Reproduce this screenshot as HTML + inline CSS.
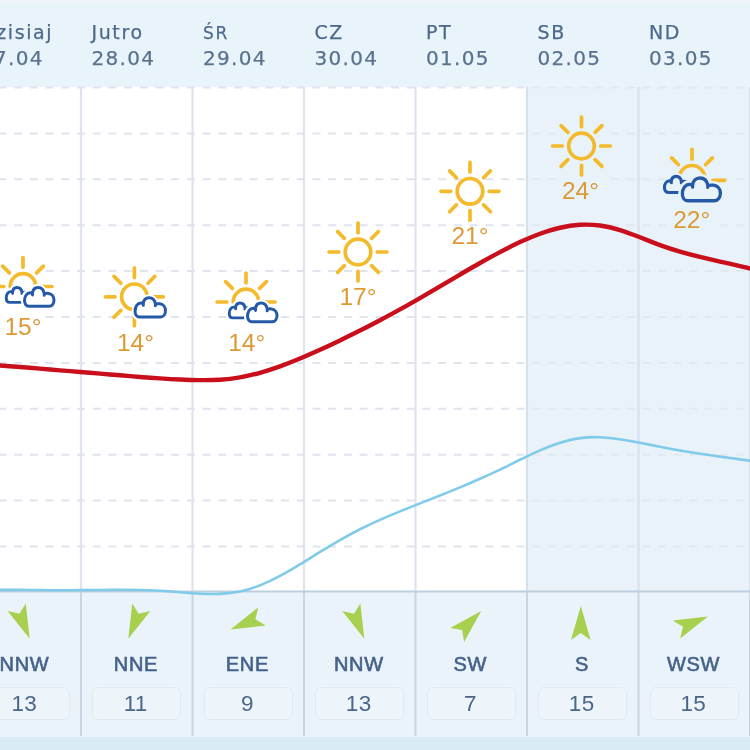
<!DOCTYPE html>
<html lang="pl"><head><meta charset="utf-8"><title>Pogoda</title>
<style>
html,body{margin:0;padding:0;}
body{width:750px;height:750px;overflow:hidden;background:#fff;font-family:"Liberation Sans","DejaVu Sans",sans-serif;position:relative;}
#hdr{position:absolute;left:0;top:0;width:750px;height:87px;background:#e9f3fa;}
.wk{position:absolute;top:87px;height:504px;background:#e8f2f9;}
#bot{position:absolute;left:0;top:591.5px;width:750px;height:145px;background:#eaf3fa;}
#band{position:absolute;left:0;top:736.5px;width:750px;height:14px;background:#d8eaf3;}
svg{position:absolute;left:0;top:0;overflow:visible;filter:blur(0.5px);}
.day,.date,.temp,.dir,.spd{filter:blur(0.4px);}
.day,.date{position:absolute;font-family:"DejaVu Sans","Liberation Sans",sans-serif;white-space:nowrap;-webkit-text-stroke:0.25px currentColor;}
.day{top:19.5px;color:#4d698c;font-size:19px;line-height:24px;letter-spacing:1.6px;}
.day.s{font-size:17px;top:20.5px;}
.date{top:46px;color:#58728f;font-size:20px;line-height:24px;letter-spacing:1.3px;}
.temp{position:absolute;width:80px;text-align:center;color:#db9a33;font-size:24.5px;line-height:24px;letter-spacing:0px;white-space:nowrap;}
.dir{position:absolute;top:652px;width:100px;text-align:center;color:#46628a;font-size:20px;line-height:24px;letter-spacing:0.7px;white-space:nowrap;-webkit-text-stroke:0.6px #46628a;}
.spd{position:absolute;top:687px;width:87px;height:31px;border:1px solid #dfe9f3;border-radius:6px;background:#edf5fb;text-align:center;color:#4a6688;font-size:22.5px;line-height:31px;letter-spacing:0.3px;text-indent:-2px;}
</style></head><body>
<div id="hdr"></div><div style="position:absolute;left:0;top:0;width:750px;height:2px;background:#eef4f8"></div>
<div class="wk" style="left:527.0px;width:223.0px"></div>
<div id="bot"></div><div id="band"></div>
<svg width="750" height="750" viewBox="0 0 750 750">
<line x1="-17.2" y1="87.5" x2="770" y2="87.5" stroke="#e0e4ee" stroke-width="2" stroke-dasharray="8 7.7"/>
<line x1="-17.2" y1="133.4" x2="770" y2="133.4" stroke="#e0e4ee" stroke-width="2" stroke-dasharray="8 7.7"/>
<line x1="-17.2" y1="179.3" x2="770" y2="179.3" stroke="#e0e4ee" stroke-width="2" stroke-dasharray="8 7.7"/>
<line x1="-17.2" y1="225.2" x2="770" y2="225.2" stroke="#e0e4ee" stroke-width="2" stroke-dasharray="8 7.7"/>
<line x1="-17.2" y1="271.1" x2="770" y2="271.1" stroke="#e0e4ee" stroke-width="2" stroke-dasharray="8 7.7"/>
<line x1="-17.2" y1="317.0" x2="770" y2="317.0" stroke="#e0e4ee" stroke-width="2" stroke-dasharray="8 7.7"/>
<line x1="-17.2" y1="362.9" x2="770" y2="362.9" stroke="#e0e4ee" stroke-width="2" stroke-dasharray="8 7.7"/>
<line x1="-17.2" y1="408.8" x2="770" y2="408.8" stroke="#e0e4ee" stroke-width="2" stroke-dasharray="8 7.7"/>
<line x1="-17.2" y1="454.7" x2="770" y2="454.7" stroke="#e0e4ee" stroke-width="2" stroke-dasharray="8 7.7"/>
<line x1="-17.2" y1="500.6" x2="770" y2="500.6" stroke="#e0e4ee" stroke-width="2" stroke-dasharray="8 7.7"/>
<line x1="-17.2" y1="546.5" x2="770" y2="546.5" stroke="#e0e4ee" stroke-width="2" stroke-dasharray="8 7.7"/>
<rect x="528.0" y="86" width="230" height="506" fill="#e8f2f9" opacity="0.25"/>
<line x1="81.0" y1="87" x2="81.0" y2="591" stroke="#dfe3ef" stroke-width="2.2"/>
<line x1="81.0" y1="591" x2="81.0" y2="736" stroke="#c9d4e3" stroke-width="2"/>
<line x1="192.5" y1="87" x2="192.5" y2="591" stroke="#dfe3ef" stroke-width="2.2"/>
<line x1="192.5" y1="591" x2="192.5" y2="736" stroke="#c9d4e3" stroke-width="2"/>
<line x1="304.0" y1="87" x2="304.0" y2="591" stroke="#dfe3ef" stroke-width="2.2"/>
<line x1="304.0" y1="591" x2="304.0" y2="736" stroke="#c9d4e3" stroke-width="2"/>
<line x1="415.5" y1="87" x2="415.5" y2="591" stroke="#dfe3ef" stroke-width="2.2"/>
<line x1="415.5" y1="591" x2="415.5" y2="736" stroke="#c9d4e3" stroke-width="2"/>
<line x1="527.0" y1="87" x2="527.0" y2="591" stroke="#d6e1ed" stroke-width="2.2"/>
<line x1="527.0" y1="591" x2="527.0" y2="736" stroke="#c9d4e3" stroke-width="2"/>
<line x1="638.5" y1="87" x2="638.5" y2="591" stroke="#d6e1ed" stroke-width="2.2"/>
<line x1="638.5" y1="591" x2="638.5" y2="736" stroke="#c9d4e3" stroke-width="2"/>
<line x1="750.0" y1="87" x2="750.0" y2="591" stroke="#d6e1ed" stroke-width="2.2"/>
<line x1="750.0" y1="591" x2="750.0" y2="736" stroke="#c9d4e3" stroke-width="2"/>
<line x1="-10" y1="591.6" x2="760" y2="591.6" stroke="#bdcede" stroke-width="2"/>
<rect x="0.5" y="255.5" width="45" height="86" fill="#ffffff"/>
<rect x="559.0" y="115.0" width="45" height="86" fill="#e8f2f9"/>
<rect x="669.5" y="148.0" width="45" height="86" fill="#e8f2f9"/>
<path d="M-20.0 590.07 C-13.3 589.93 -6.7 589.86 0.0 589.84 C6.7 589.82 13.3 589.85 20.0 589.90 C26.7 589.96 33.3 590.03 40.0 590.09 C46.7 590.16 53.3 590.22 60.0 590.24 C66.7 590.26 73.3 590.24 80.0 590.17 C86.7 590.11 93.3 590.02 100.0 589.94 C106.7 589.87 113.3 589.80 120.0 589.79 C126.7 589.78 133.3 589.83 140.0 589.97 C146.7 590.12 153.3 590.36 160.0 590.74 C166.7 591.12 173.3 591.67 180.0 592.23 C186.7 592.80 193.3 593.35 200.0 593.69 C206.7 594.02 213.3 594.15 220.0 593.84 C226.7 593.54 233.3 592.81 240.0 591.45 C246.7 590.09 253.3 588.03 260.0 585.37 C266.7 582.72 273.3 579.49 280.0 575.91 C286.7 572.34 293.3 568.41 300.0 564.35 C306.7 560.29 313.3 556.10 320.0 551.98 C326.7 547.87 333.3 543.86 340.0 540.06 C346.7 536.25 353.3 532.63 360.0 529.25 C366.7 525.87 373.3 522.75 380.0 519.82 C386.7 516.88 393.3 514.12 400.0 511.41 C406.7 508.70 413.3 506.05 420.0 503.41 C426.7 500.78 433.3 498.15 440.0 495.50 C446.7 492.84 453.3 490.15 460.0 487.37 C466.7 484.60 473.3 481.74 480.0 478.77 C486.7 475.81 493.3 472.74 500.0 469.56 C506.7 466.37 513.3 463.04 520.0 459.78 C526.7 456.51 533.3 453.31 540.0 450.39 C546.7 447.48 553.3 444.85 560.0 442.74 C566.7 440.62 573.3 439.01 580.0 438.12 C586.7 437.23 593.3 437.00 600.0 437.24 C606.7 437.49 613.3 438.20 620.0 439.18 C626.7 440.17 633.3 441.43 640.0 442.76 C646.7 444.10 653.3 445.50 660.0 446.80 C666.7 448.10 673.3 449.31 680.0 450.45 C686.7 451.60 693.3 452.67 700.0 453.70 C706.7 454.72 713.3 455.70 720.0 456.64 C726.7 457.59 733.3 458.50 740.0 459.40 C746.7 460.30 753.3 461.19 760.0 462.08" fill="none" stroke="#80cbe9" stroke-width="2.6"/>
<path d="M-20.0 364.32 C-13.3 364.67 -6.7 365.08 0.0 365.54 C6.7 366.00 13.3 366.50 20.0 367.03 C26.7 367.55 33.3 368.10 40.0 368.66 C46.7 369.21 53.3 369.77 60.0 370.32 C66.7 370.87 73.3 371.42 80.0 371.97 C86.7 372.51 93.3 373.06 100.0 373.62 C106.7 374.17 113.3 374.74 120.0 375.30 C126.7 375.86 133.3 376.42 140.0 376.94 C146.7 377.47 153.3 377.96 160.0 378.40 C166.7 378.84 173.3 379.22 180.0 379.52 C186.7 379.82 193.3 380.05 200.0 380.14 C206.7 380.23 213.3 380.15 220.0 379.74 C226.7 379.33 233.3 378.57 240.0 377.39 C246.7 376.21 253.3 374.65 260.0 372.79 C266.7 370.93 273.3 368.77 280.0 366.37 C286.7 363.97 293.3 361.34 300.0 358.55 C306.7 355.76 313.3 352.81 320.0 349.78 C326.7 346.74 333.3 343.63 340.0 340.42 C346.7 337.22 353.3 333.93 360.0 330.56 C366.7 327.19 373.3 323.74 380.0 320.20 C386.7 316.67 393.3 313.06 400.0 309.36 C406.7 305.66 413.3 301.89 420.0 298.04 C426.7 294.18 433.3 290.26 440.0 286.33 C446.7 282.40 453.3 278.45 460.0 274.55 C466.7 270.65 473.3 266.79 480.0 263.02 C486.7 259.26 493.3 255.59 500.0 252.08 C506.7 248.56 513.3 245.20 520.0 242.11 C526.7 239.02 533.3 236.19 540.0 233.76 C546.7 231.33 553.3 229.28 560.0 227.75 C566.7 226.21 573.3 225.18 580.0 224.78 C586.7 224.38 593.3 224.62 600.0 225.51 C606.7 226.40 613.3 227.98 620.0 230.07 C626.7 232.15 633.3 234.69 640.0 237.31 C646.7 239.93 653.3 242.64 660.0 245.08 C666.7 247.51 673.3 249.66 680.0 251.61 C686.7 253.55 693.3 255.30 700.0 256.92 C706.7 258.55 713.3 260.07 720.0 261.56 C726.7 263.05 733.3 264.52 740.0 266.05 C746.7 267.58 753.3 269.18 760.0 270.93" fill="none" stroke="#c90f1c" stroke-width="4.4"/>
<g transform="translate(23.0 286.5)" stroke="#f3ba2b" stroke-width="3.7" fill="none" stroke-linecap="round"><path d="M-12.8 0 A12.8 12.8 0 0 1 12.8 0"/><line x1="-19.3" y1="-0.0" x2="-28.9" y2="-0.0"/><line x1="-13.6" y1="-13.6" x2="-20.4" y2="-20.4"/><line x1="0.0" y1="-19.3" x2="0.0" y2="-28.9"/><line x1="13.6" y1="-13.6" x2="20.4" y2="-20.4"/><line x1="19.3" y1="-0.0" x2="28.9" y2="-0.0"/></g><path transform="translate(5.3 286.5) scale(0.740 0.740)" vector-effect="non-scaling-stroke" d="M6.12 21.48 C2.92 21.48 1.32 18.60 1.32 15.40 C1.32 10.60 3.88 6.92 7.40 6.92 C8.36 6.92 9.16 7.24 9.80 7.88 C10.12 3.88 12.52 1.32 15.88 1.32 C19.40 1.32 21.96 3.88 22.60 8.20 C23.88 7.56 25.64 7.50 27.24 7.72 C30.76 8.20 33.00 11.24 33.00 14.76 C33.00 18.60 30.76 21.48 27.88 21.48 Z M9.80 7.88 L9.90 9.32 M22.60 8.20 L22.44 9.64" fill="#ffffff" stroke="#ffffff" stroke-width="7.30" stroke-linejoin="round" stroke-linecap="round"/><path transform="translate(5.3 286.5) scale(0.740 0.740)" vector-effect="non-scaling-stroke" d="M6.12 21.48 C2.92 21.48 1.32 18.60 1.32 15.40 C1.32 10.60 3.88 6.92 7.40 6.92 C8.36 6.92 9.16 7.24 9.80 7.88 C10.12 3.88 12.52 1.32 15.88 1.32 C19.40 1.32 21.96 3.88 22.60 8.20 C23.88 7.56 25.64 7.50 27.24 7.72 C30.76 8.20 33.00 11.24 33.00 14.76 C33.00 18.60 30.76 21.48 27.88 21.48 Z M9.80 7.88 L9.90 9.32 M22.60 8.20 L22.44 9.64" fill="#ffffff" stroke="#2559a8" stroke-width="2.90" stroke-linejoin="round" stroke-linecap="round"/><path transform="translate(23.3 286.3) scale(0.930 0.930)" vector-effect="non-scaling-stroke" d="M6.12 21.48 C2.92 21.48 1.32 18.60 1.32 15.40 C1.32 10.60 3.88 6.92 7.40 6.92 C8.36 6.92 9.16 7.24 9.80 7.88 C10.12 3.88 12.52 1.32 15.88 1.32 C19.40 1.32 21.96 3.88 22.60 8.20 C23.88 7.56 25.64 7.50 27.24 7.72 C30.76 8.20 33.00 11.24 33.00 14.76 C33.00 18.60 30.76 21.48 27.88 21.48 Z M9.80 7.88 L9.90 9.32 M22.60 8.20 L22.44 9.64" fill="#ffffff" stroke="#ffffff" stroke-width="7.40" stroke-linejoin="round" stroke-linecap="round"/><path transform="translate(23.3 286.3) scale(0.930 0.930)" vector-effect="non-scaling-stroke" d="M6.12 21.48 C2.92 21.48 1.32 18.60 1.32 15.40 C1.32 10.60 3.88 6.92 7.40 6.92 C8.36 6.92 9.16 7.24 9.80 7.88 C10.12 3.88 12.52 1.32 15.88 1.32 C19.40 1.32 21.96 3.88 22.60 8.20 C23.88 7.56 25.64 7.50 27.24 7.72 C30.76 8.20 33.00 11.24 33.00 14.76 C33.00 18.60 30.76 21.48 27.88 21.48 Z M9.80 7.88 L9.90 9.32 M22.60 8.20 L22.44 9.64" fill="#ffffff" stroke="#2559a8" stroke-width="3.00" stroke-linejoin="round" stroke-linecap="round"/>
<g transform="translate(134.4 296.8)" stroke="#f3ba2b" stroke-width="3.7" fill="none" stroke-linecap="round"><circle r="12.8"/><line x1="0.0" y1="-19.3" x2="0.0" y2="-28.9"/><line x1="13.6" y1="-13.6" x2="20.4" y2="-20.4"/><line x1="19.3" y1="-0.0" x2="28.9" y2="-0.0"/><line x1="13.6" y1="13.6" x2="20.4" y2="20.4"/><line x1="0.0" y1="19.3" x2="0.0" y2="28.9"/><line x1="-13.6" y1="13.6" x2="-20.4" y2="20.4"/><line x1="-19.3" y1="0.0" x2="-28.9" y2="0.0"/><line x1="-13.6" y1="-13.6" x2="-20.4" y2="-20.4"/></g><path transform="translate(133.8 296.4) scale(0.960 0.960)" vector-effect="non-scaling-stroke" d="M6.12 21.48 C2.92 21.48 1.32 18.60 1.32 15.40 C1.32 10.60 3.88 6.92 7.40 6.92 C8.36 6.92 9.16 7.24 9.80 7.88 C10.12 3.88 12.52 1.32 15.88 1.32 C19.40 1.32 21.96 3.88 22.60 8.20 C23.88 7.56 25.64 7.50 27.24 7.72 C30.76 8.20 33.00 11.24 33.00 14.76 C33.00 18.60 30.76 21.48 27.88 21.48 Z M9.80 7.88 L9.90 9.32 M22.60 8.20 L22.44 9.64" fill="#ffffff" stroke="#ffffff" stroke-width="6.80" stroke-linejoin="round" stroke-linecap="round"/><path transform="translate(133.8 296.4) scale(0.960 0.960)" vector-effect="non-scaling-stroke" d="M6.12 21.48 C2.92 21.48 1.32 18.60 1.32 15.40 C1.32 10.60 3.88 6.92 7.40 6.92 C8.36 6.92 9.16 7.24 9.80 7.88 C10.12 3.88 12.52 1.32 15.88 1.32 C19.40 1.32 21.96 3.88 22.60 8.20 C23.88 7.56 25.64 7.50 27.24 7.72 C30.76 8.20 33.00 11.24 33.00 14.76 C33.00 18.60 30.76 21.48 27.88 21.48 Z M9.80 7.88 L9.90 9.32 M22.60 8.20 L22.44 9.64" fill="#ffffff" stroke="#2559a8" stroke-width="3.00" stroke-linejoin="round" stroke-linecap="round"/>
<g transform="translate(246.0 302.0)" stroke="#f3ba2b" stroke-width="3.7" fill="none" stroke-linecap="round"><path d="M-12.8 0 A12.8 12.8 0 0 1 12.8 0"/><line x1="-19.3" y1="-0.0" x2="-28.9" y2="-0.0"/><line x1="-13.6" y1="-13.6" x2="-20.4" y2="-20.4"/><line x1="0.0" y1="-19.3" x2="0.0" y2="-28.9"/><line x1="13.6" y1="-13.6" x2="20.4" y2="-20.4"/><line x1="19.3" y1="-0.0" x2="28.9" y2="-0.0"/></g><path transform="translate(228.3 302.0) scale(0.740 0.740)" vector-effect="non-scaling-stroke" d="M6.12 21.48 C2.92 21.48 1.32 18.60 1.32 15.40 C1.32 10.60 3.88 6.92 7.40 6.92 C8.36 6.92 9.16 7.24 9.80 7.88 C10.12 3.88 12.52 1.32 15.88 1.32 C19.40 1.32 21.96 3.88 22.60 8.20 C23.88 7.56 25.64 7.50 27.24 7.72 C30.76 8.20 33.00 11.24 33.00 14.76 C33.00 18.60 30.76 21.48 27.88 21.48 Z M9.80 7.88 L9.90 9.32 M22.60 8.20 L22.44 9.64" fill="#ffffff" stroke="#ffffff" stroke-width="7.30" stroke-linejoin="round" stroke-linecap="round"/><path transform="translate(228.3 302.0) scale(0.740 0.740)" vector-effect="non-scaling-stroke" d="M6.12 21.48 C2.92 21.48 1.32 18.60 1.32 15.40 C1.32 10.60 3.88 6.92 7.40 6.92 C8.36 6.92 9.16 7.24 9.80 7.88 C10.12 3.88 12.52 1.32 15.88 1.32 C19.40 1.32 21.96 3.88 22.60 8.20 C23.88 7.56 25.64 7.50 27.24 7.72 C30.76 8.20 33.00 11.24 33.00 14.76 C33.00 18.60 30.76 21.48 27.88 21.48 Z M9.80 7.88 L9.90 9.32 M22.60 8.20 L22.44 9.64" fill="#ffffff" stroke="#2559a8" stroke-width="2.90" stroke-linejoin="round" stroke-linecap="round"/><path transform="translate(246.3 301.8) scale(0.930 0.930)" vector-effect="non-scaling-stroke" d="M6.12 21.48 C2.92 21.48 1.32 18.60 1.32 15.40 C1.32 10.60 3.88 6.92 7.40 6.92 C8.36 6.92 9.16 7.24 9.80 7.88 C10.12 3.88 12.52 1.32 15.88 1.32 C19.40 1.32 21.96 3.88 22.60 8.20 C23.88 7.56 25.64 7.50 27.24 7.72 C30.76 8.20 33.00 11.24 33.00 14.76 C33.00 18.60 30.76 21.48 27.88 21.48 Z M9.80 7.88 L9.90 9.32 M22.60 8.20 L22.44 9.64" fill="#ffffff" stroke="#ffffff" stroke-width="7.40" stroke-linejoin="round" stroke-linecap="round"/><path transform="translate(246.3 301.8) scale(0.930 0.930)" vector-effect="non-scaling-stroke" d="M6.12 21.48 C2.92 21.48 1.32 18.60 1.32 15.40 C1.32 10.60 3.88 6.92 7.40 6.92 C8.36 6.92 9.16 7.24 9.80 7.88 C10.12 3.88 12.52 1.32 15.88 1.32 C19.40 1.32 21.96 3.88 22.60 8.20 C23.88 7.56 25.64 7.50 27.24 7.72 C30.76 8.20 33.00 11.24 33.00 14.76 C33.00 18.60 30.76 21.48 27.88 21.48 Z M9.80 7.88 L9.90 9.32 M22.60 8.20 L22.44 9.64" fill="#ffffff" stroke="#2559a8" stroke-width="3.00" stroke-linejoin="round" stroke-linecap="round"/>
<g transform="translate(358.0 252.0)" stroke="#f3ba2b" stroke-width="3.7" fill="none" stroke-linecap="round"><circle r="12.8"/><line x1="0.0" y1="-19.3" x2="0.0" y2="-28.9"/><line x1="13.6" y1="-13.6" x2="20.4" y2="-20.4"/><line x1="19.3" y1="-0.0" x2="28.9" y2="-0.0"/><line x1="13.6" y1="13.6" x2="20.4" y2="20.4"/><line x1="0.0" y1="19.3" x2="0.0" y2="28.9"/><line x1="-13.6" y1="13.6" x2="-20.4" y2="20.4"/><line x1="-19.3" y1="0.0" x2="-28.9" y2="0.0"/><line x1="-13.6" y1="-13.6" x2="-20.4" y2="-20.4"/></g>
<g transform="translate(470.0 191.3)" stroke="#f3ba2b" stroke-width="3.7" fill="none" stroke-linecap="round"><circle r="12.8"/><line x1="0.0" y1="-19.3" x2="0.0" y2="-28.9"/><line x1="13.6" y1="-13.6" x2="20.4" y2="-20.4"/><line x1="19.3" y1="-0.0" x2="28.9" y2="-0.0"/><line x1="13.6" y1="13.6" x2="20.4" y2="20.4"/><line x1="0.0" y1="19.3" x2="0.0" y2="28.9"/><line x1="-13.6" y1="13.6" x2="-20.4" y2="20.4"/><line x1="-19.3" y1="0.0" x2="-28.9" y2="0.0"/><line x1="-13.6" y1="-13.6" x2="-20.4" y2="-20.4"/></g>
<g transform="translate(581.5 146.0)" stroke="#f3ba2b" stroke-width="3.7" fill="none" stroke-linecap="round"><circle r="12.8"/><line x1="0.0" y1="-19.3" x2="0.0" y2="-28.9"/><line x1="13.6" y1="-13.6" x2="20.4" y2="-20.4"/><line x1="19.3" y1="-0.0" x2="28.9" y2="-0.0"/><line x1="13.6" y1="13.6" x2="20.4" y2="20.4"/><line x1="0.0" y1="19.3" x2="0.0" y2="28.9"/><line x1="-13.6" y1="13.6" x2="-20.4" y2="20.4"/><line x1="-19.3" y1="0.0" x2="-28.9" y2="0.0"/><line x1="-13.6" y1="-13.6" x2="-20.4" y2="-20.4"/></g>
<g transform="translate(692.0 178.3)" stroke="#f3ba2b" stroke-width="3.7" fill="none" stroke-linecap="round"><path d="M-12.8 0 A12.8 12.8 0 0 1 12.8 0"/><line x1="-13.6" y1="-13.6" x2="-20.4" y2="-20.4"/><line x1="0.0" y1="-19.3" x2="0.0" y2="-28.9"/><line x1="13.6" y1="-13.6" x2="20.4" y2="-20.4"/><line x1="21" y1="2" x2="32.5" y2="2"/></g><path transform="translate(663.4 175.3) scale(0.800 0.800)" vector-effect="non-scaling-stroke" d="M6.12 21.48 C2.92 21.48 1.32 18.60 1.32 15.40 C1.32 10.60 3.88 6.92 7.40 6.92 C8.36 6.92 9.16 7.24 9.80 7.88 C10.12 3.88 12.52 1.32 15.88 1.32 C19.40 1.32 21.96 3.88 22.60 8.20 C23.88 7.56 25.64 7.50 27.24 7.72 C30.76 8.20 33.00 11.24 33.00 14.76 C33.00 18.60 30.76 21.48 27.88 21.48 Z M9.80 7.88 L9.90 9.32 M22.60 8.20 L22.44 9.64" fill="#e8f2f9" stroke="#e8f2f9" stroke-width="7.50" stroke-linejoin="round" stroke-linecap="round"/><path transform="translate(663.4 175.3) scale(0.800 0.800)" vector-effect="non-scaling-stroke" d="M6.12 21.48 C2.92 21.48 1.32 18.60 1.32 15.40 C1.32 10.60 3.88 6.92 7.40 6.92 C8.36 6.92 9.16 7.24 9.80 7.88 C10.12 3.88 12.52 1.32 15.88 1.32 C19.40 1.32 21.96 3.88 22.60 8.20 C23.88 7.56 25.64 7.50 27.24 7.72 C30.76 8.20 33.00 11.24 33.00 14.76 C33.00 18.60 30.76 21.48 27.88 21.48 Z M9.80 7.88 L9.90 9.32 M22.60 8.20 L22.44 9.64" fill="#e8f2f9" stroke="#2559a8" stroke-width="3.10" stroke-linejoin="round" stroke-linecap="round"/><path transform="translate(680.8 176.5) scale(1.200 1.130)" vector-effect="non-scaling-stroke" d="M6.12 21.48 C2.92 21.48 1.32 18.60 1.32 15.40 C1.32 10.60 3.88 6.92 7.40 6.92 C8.36 6.92 9.16 7.24 9.80 7.88 C10.12 3.88 12.52 1.32 15.88 1.32 C19.40 1.32 21.96 3.88 22.60 8.20 C23.88 7.56 25.64 7.50 27.24 7.72 C30.76 8.20 33.00 11.24 33.00 14.76 C33.00 18.60 30.76 21.48 27.88 21.48 Z M9.80 7.88 L9.90 9.32 M22.60 8.20 L22.44 9.64" fill="#e8f2f9" stroke="#e8f2f9" stroke-width="8.50" stroke-linejoin="round" stroke-linecap="round"/><path transform="translate(680.8 176.5) scale(1.200 1.130)" vector-effect="non-scaling-stroke" d="M6.12 21.48 C2.92 21.48 1.32 18.60 1.32 15.40 C1.32 10.60 3.88 6.92 7.40 6.92 C8.36 6.92 9.16 7.24 9.80 7.88 C10.12 3.88 12.52 1.32 15.88 1.32 C19.40 1.32 21.96 3.88 22.60 8.20 C23.88 7.56 25.64 7.50 27.24 7.72 C30.76 8.20 33.00 11.24 33.00 14.76 C33.00 18.60 30.76 21.48 27.88 21.48 Z M9.80 7.88 L9.90 9.32 M22.60 8.20 L22.44 9.64" fill="#e8f2f9" stroke="#2559a8" stroke-width="3.30" stroke-linejoin="round" stroke-linecap="round"/>
<polygon transform="translate(23.2 623.0) rotate(157.5)" points="0,-17 9.8,17 0,10 -9.8,17" fill="#a6d04e"/>
<polygon transform="translate(134.8 623.0) rotate(202.5)" points="0,-17 9.8,17 0,10 -9.8,17" fill="#a6d04e"/>
<polygon transform="translate(246.2 623.0) rotate(247.5)" points="0,-17 9.8,17 0,10 -9.8,17" fill="#a6d04e"/>
<polygon transform="translate(357.8 623.0) rotate(157.5)" points="0,-17 9.8,17 0,10 -9.8,17" fill="#a6d04e"/>
<polygon transform="translate(469.2 623.0) rotate(45.0)" points="0,-17 9.8,17 0,10 -9.8,17" fill="#a6d04e"/>
<polygon transform="translate(580.8 623.0) rotate(0.0)" points="0,-17 9.8,17 0,10 -9.8,17" fill="#a6d04e"/>
<polygon transform="translate(692.2 623.0) rotate(67.5)" points="0,-17 9.8,17 0,10 -9.8,17" fill="#a6d04e"/>
</svg>
<div class="day f" style="left:-20.0px">Dzisiaj</div><div class="date" style="left:-20.0px">27.04</div>
<div class="day f" style="left:91.5px">Jutro</div><div class="date" style="left:91.5px">28.04</div>
<div class="day s" style="left:203.0px">ŚR</div><div class="date" style="left:203.0px">29.04</div>
<div class="day a" style="left:314.5px">CZ</div><div class="date" style="left:314.5px">30.04</div>
<div class="day a" style="left:426.0px">PT</div><div class="date" style="left:426.0px">01.05</div>
<div class="day a" style="left:537.5px">SB</div><div class="date" style="left:537.5px">02.05</div>
<div class="day a" style="left:649.0px">ND</div><div class="date" style="left:649.0px">03.05</div>
<div class="temp" style="left:-17.0px;top:314.6px">15°</div>
<div class="temp" style="left:95.5px;top:331.3px">14°</div>
<div class="temp" style="left:206.7px;top:331.1px">14°</div>
<div class="temp" style="left:318.0px;top:285.1px">17°</div>
<div class="temp" style="left:430.0px;top:224.4px">21°</div>
<div class="temp" style="left:540.5px;top:178.6px">24°</div>
<div class="temp" style="left:651.7px;top:208.2px">22°</div>
<div class="dir" style="left:-25.5px">NNW</div><div class="spd" style="left:-19.2px">13</div>
<div class="dir" style="left:86.0px">NNE</div><div class="spd" style="left:92.2px">11</div>
<div class="dir" style="left:197.4px">ENE</div><div class="spd" style="left:203.8px">9</div>
<div class="dir" style="left:308.9px">NNW</div><div class="spd" style="left:315.2px">13</div>
<div class="dir" style="left:420.4px">SW</div><div class="spd" style="left:426.8px">7</div>
<div class="dir" style="left:532.0px">S</div><div class="spd" style="left:538.2px">15</div>
<div class="dir" style="left:643.5px">WSW</div><div class="spd" style="left:649.8px">15</div>
</body></html>
